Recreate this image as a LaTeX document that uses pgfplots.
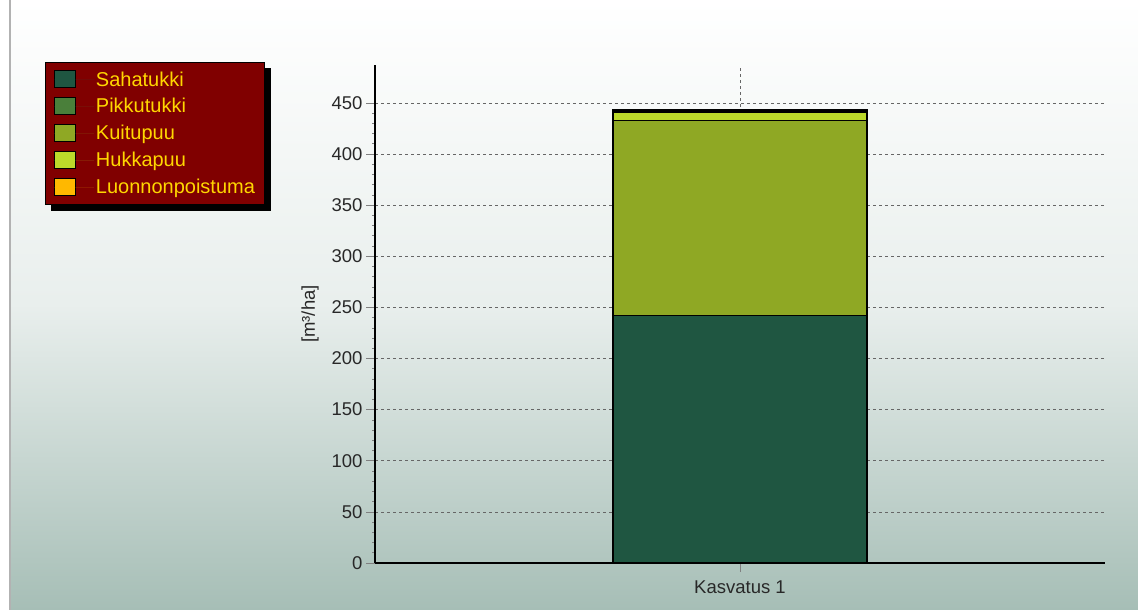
\documentclass[border=0pt]{standalone}
\usepackage{pgfplots}
\pgfplotsset{compat=1.18}
\usepackage{fontspec}
\setmainfont{Liberation Sans}
\definecolor{bgbot}{RGB}{166,190,182}
\definecolor{saha}{RGB}{31,86,65}
\definecolor{pikku}{RGB}{74,127,58}
\definecolor{kuitu}{RGB}{143,168,36}
\definecolor{hukka}{RGB}{188,217,42}
\definecolor{luonto}{RGB}{255,184,0}
\definecolor{legred}{RGB}{128,0,0}
\definecolor{legtxt}{RGB}{255,215,0}
\definecolor{ticktxt}{RGB}{40,40,40}
\begin{document}
\begin{tikzpicture}
\shade[top color=white, bottom color=bgbot, middle color=white!75!bgbot] (0pt,0pt) rectangle (1138pt,610pt);
\fill[white] (0pt,0pt) rectangle (9pt,610pt);
\fill[gray!60] (9pt,0pt) rectangle (11pt,610pt);
\fill[black] (51pt,399pt) rectangle (271pt,542pt);
\begin{axis}[
  at={(375pt,47pt)}, anchor=south west,
  scale only axis, width=730pt, height=498pt,
  xmin=-1, xmax=1, ymin=0, ymax=487,
  ybar stacked, bar width=254pt,
  axis x line=bottom, axis y line=left,
  axis line style={-, line width=2.6pt, black},
  xtick={0}, xticklabels={Kasvatus 1},
  ytick={0,50,...,450},
  minor y tick num=4,
  tick align=outside,
  major tick length=9pt, minor tick length=3pt,
  every tick/.style={gray, line width=0.6pt},
  xmajorgrids, ymajorgrids,
  grid style={dashed, gray!80!black, line width=0.6pt},
  tick label style={font=\fontsize{18.5}{21}\selectfont, text=ticktxt},
  /pgf/number format/assume math mode=true,
  ylabel={[m³/ha]},
  y label style={at={(axis description cs:-0.089,0.5)}, anchor=center, font=\fontsize{18.5}{21}\selectfont, text=ticktxt},
  x tick label style={yshift=-5pt},
  legend style={at={(rel axis cs:-0.452,1.006)}, anchor=north west,
    fill=legred, draw=black, line width=1pt, text=legtxt,
    font=\fontsize{20}{22}\selectfont,
    row sep=7pt, inner xsep=8pt, inner ysep=7pt,
    legend cell align=left},
  legend image code/.code={\draw[#1, draw=black, line width=0.8pt] (0pt,-8pt) rectangle (21pt,9pt); \path[draw=none] (0pt,0pt) -- (40pt,0pt);},
  clip=false,
]
\addplot[fill=saha, draw=black, line width=1.2pt] coordinates {(0,242)};
\addplot[fill=pikku, draw=black, line width=1.2pt] coordinates {(0,0)};
\addplot[fill=kuitu, draw=black, line width=1.2pt] coordinates {(0,191)};
\addplot[fill=hukka, draw=black, line width=1.2pt] coordinates {(0,8)};
\addplot[fill=luonto, draw=black, line width=1.2pt] coordinates {(0,2)};
\legend{Sahatukki,Pikkutukki,Kuitupuu,Hukkapuu,Luonnonpoistuma}
\end{axis}
\end{tikzpicture}
\end{document}
